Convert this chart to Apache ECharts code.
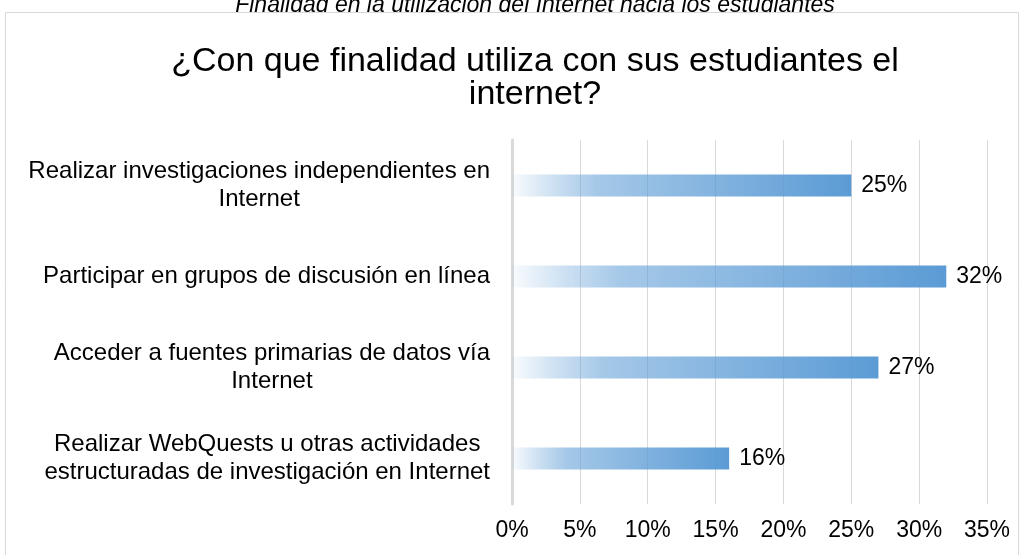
<!DOCTYPE html>
<html>
<head>
<meta charset="utf-8">
<script src="https://cdn.jsdelivr.net/npm/echarts@6/dist/echarts.min.js"></script>
<style>
  html, body { margin: 0; padding: 0; background: #fff; }
  #chart { width: 1024px; height: 555px; }
</style>
</head>
<body>
<div id="chart"></div>
<script>
const categories = [
  "Realizar investigaciones independientes en\nInternet",
  "Participar en grupos de discusión en línea",
  "Acceder a fuentes primarias de datos vía\nInternet",
  "Realizar WebQuests u otras actividades\nestructuradas de investigación en Internet"
];
const values = [25, 32, 27, 16];
const xTicks = [0, 5, 10, 15, 20, 25, 30, 35];

const font = "'Liberation Sans', Arial, sans-serif";

const chart = echarts.init(document.getElementById("chart"));

chart.setOption({
  animation: false,
  textStyle: { fontFamily: font },
  title: [
    {
      text: "Finalidad en la utilización del Internet hacia los estudiantes",
      left: 530,
      textAlign: "center",
      top: -11,
      textStyle: { fontFamily: font, fontSize: 23, fontStyle: "italic", fontWeight: "normal", color: "#000", lineHeight: 23 }
    },
    {
      text: "¿Con que finalidad utiliza con sus estudiantes el\ninternet?",
      left: 530,
      textAlign: "center",
      top: 40,
      textStyle: { fontFamily: font, fontSize: 34, fontWeight: "normal", color: "#000", lineHeight: 33 }
    }
  ],
  graphic: [
    {
      type: "rect",
      shape: { x: 5.5, y: 12.5, width: 1013, height: 560 },
      style: { fill: "none", stroke: "#d9d9d9", lineWidth: 1 },
      silent: true
    }
  ],
  grid: { left: 512, right: 37, top: 140, height: 364 },
  xAxis: {
    type: "value",
    min: 0,
    max: 35,
    interval: 5,
    axisLine: { show: false },
    axisTick: { show: false },
    splitLine: { show: true, lineStyle: { color: "#d9d9d9", width: 1 } },
    axisLabel: {
      margin: 15,
      fontFamily: font,
      fontSize: 23,
      color: "#000",
      formatter: v => xTicks.includes(v) ? v + "%" : ""
    }
  },
  yAxis: {
    type: "category",
    inverse: true,
    data: categories,
    axisLine: { show: true, lineStyle: { color: "#d9d9d9", width: 3 } },
    axisTick: { show: false },
    axisLabel: {
      margin: 22,
      align: "right",
      formatter: v => v.split("\n").map(s => "{c|" + s + "}").join("\n"),
      rich: {
        c: {
          fontFamily: font,
          fontSize: 24,
          lineHeight: 28,
          color: "#000",
          align: "center"
        }
      }
    }
  },
  series: [
    {
      type: "bar",
      data: values,
      barWidth: 22,
      itemStyle: {
        color: new echarts.graphic.LinearGradient(0, 0, 1, 0, [
          { offset: 0, color: "rgba(91,155,213,0.04)" },
          { offset: 0.12, color: "rgba(91,155,213,0.3)" },
          { offset: 0.25, color: "rgba(91,155,213,0.55)" },
          { offset: 1, color: "rgba(91,155,213,1)" }
        ])
      },
      label: {
        show: true,
        position: "right",
        distance: 10,
        fontFamily: font,
        fontSize: 23,
        color: "#000",
        formatter: p => p.value + "%"
      }
    }
  ]
});
</script>
</body>
</html>
